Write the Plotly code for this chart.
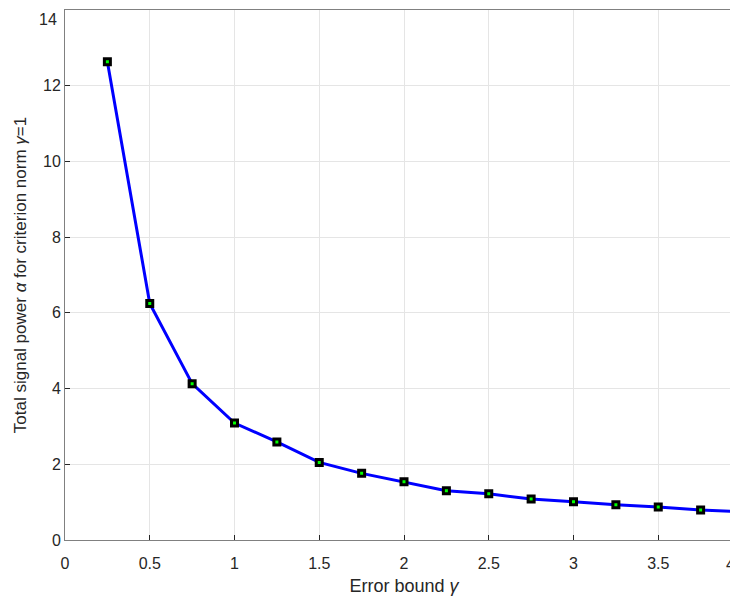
import plotly.graph_objects as go

gamma = [0.25, 0.5, 0.75, 1.0, 1.25, 1.5, 1.75, 2.0, 2.25, 2.5, 2.75, 3.0, 3.25, 3.5, 3.75, 4.0]
power = [12.63, 6.25, 4.13, 3.09, 2.59, 2.05, 1.76, 1.54, 1.30, 1.22, 1.08, 1.01, 0.93, 0.87, 0.79, 0.75]
x_ticks = [0, 0.5, 1, 1.5, 2, 2.5, 3, 3.5]
x_tick_text = ["0", "0.5", "1", "1.5", "2", "2.5", "3", "3.5"]
y_ticks = [0, 2, 4, 6, 8, 10, 12, 14]

FONT = "Liberation Sans, Arial, sans-serif"
AX_COL = "#262626"

fig = go.Figure()
fig.add_trace(go.Scatter(
    x=gamma, y=power, mode="lines+markers",
    line=dict(color="#0000FF", width=3),
    marker=dict(symbol="square", size=6, color="#00FF00",
                line=dict(color="black", width=3)),
    cliponaxis=False, showlegend=False,
))

axis_common = dict(
    showline=True, linecolor="#808080", linewidth=1, mirror=True,
    ticks="inside", ticklen=5, tickcolor=AX_COL, tickwidth=1,
    showgrid=True, gridcolor="#E5E5E5", gridwidth=1,
    zeroline=False, automargin=False,
    tickfont=dict(family=FONT, size=16, color=AX_COL),
)

fig.update_xaxes(range=[0, 4], tickvals=x_ticks, ticktext=x_tick_text,
                 ticklabelstandoff=9,
                 title=dict(text="Error bound <i>γ</i>", font=dict(family=FONT, size=18, color=AX_COL), standoff=8),
                 **axis_common)
fig.update_yaxes(range=[0, 14], tickvals=y_ticks[:-1],
                 title=dict(text="Total signal power <i>α</i> for criterion norm <i>γ</i>=1",
                            font=dict(family=FONT, size=17, color=AX_COL), standoff=12),
                 **axis_common)

# "14" tick label at the top end of the y axis (kept fully inside the page)
fig.add_annotation(x=0, xref="paper", y=y_ticks[-1], yref="y", xshift=-6, yshift=1,
                   text=str(y_ticks[-1]), showarrow=False, xanchor="right", yanchor="top",
                   font=dict(family=FONT, size=16, color=AX_COL))

# "4" tick label at the right edge (kept fully visible)
fig.add_annotation(x=1, xref="paper", y=0, yref="y", yshift=-14, xshift=-6,
                   text="4", showarrow=False, yanchor="top", xanchor="right",
                   font=dict(family=FONT, size=16, color=AX_COL))

fig.update_layout(
    width=738, height=601,
    margin=dict(l=57.3, r=3.4, t=1.5, b=68.7),
    paper_bgcolor="white", plot_bgcolor="white",
    font=dict(family=FONT, color=AX_COL),
)

fig.write_html("out.html")
